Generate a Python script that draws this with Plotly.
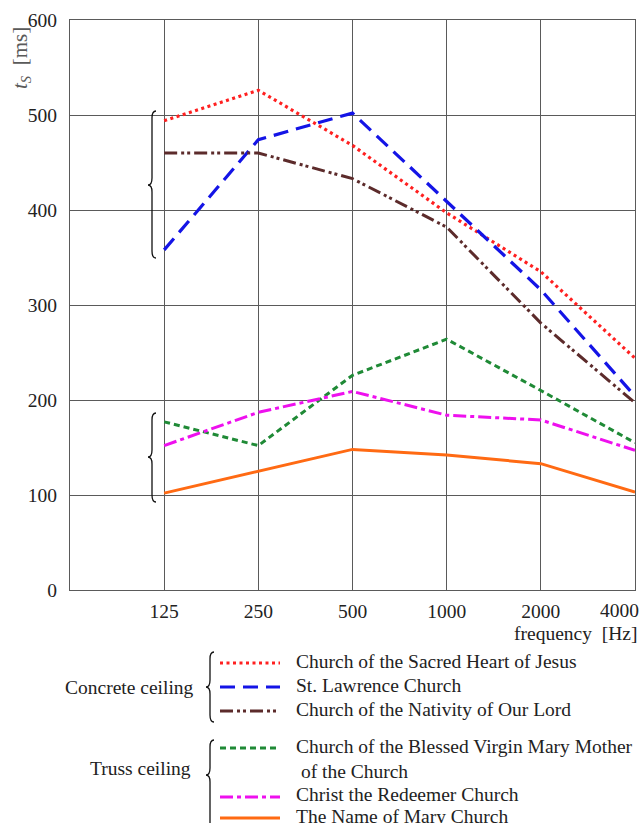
import math
import plotly.graph_objects as go

# ---------------- data ----------------
freqs = [125, 250, 500, 1000, 2000, 4000]
freq_labels = ["125", "250", "500", "1000", "2000", "4000"]
y_ticks = [0, 100, 200, 300, 400, 500, 600]

names = [
    "Church of the Sacred Heart of Jesus",
    "St. Lawrence Church",
    "Church of the Nativity of Our Lord",
    "Church of the Blessed Virgin Mary Mother<br> of the Church",
    "Christ the Redeemer Church",
    "The Name of Mary Church",
]
sacred_heart = [494, 526, 468, 397, 335, 244]
st_lawrence = [358, 474, 502, 409, 316, 204]
nativity = [460, 460, 433, 382, 281, 197]
blessed_virgin = [177, 152, 226, 264, 210, 155]
christ_redeemer = [152, 187, 209, 184, 179, 147]
name_of_mary = [102, 125, 148, 142, 133, 103]
series = [sacred_heart, st_lawrence, nativity, blessed_virgin, christ_redeemer, name_of_mary]

groups = ["Concrete ceiling", "Truss ceiling"]

# ---------------- styles ----------------
colors = ["#ff2020", "#1414e6", "#5c2b2b", "#1f8a36", "#ee10ee", "#ff6a13"]
dashes = ["3px,3.5px", "15px,8px", "13px,4px,3px,3px,3px,4px", "6px,4px", "13px,4px,4px,4px", "solid"]
widths = [3.2, 3.2, 3, 3, 3, 3]

W, H = 641, 823
ML, MR, MT, MB = 70, 6, 20, 233
PW, PH = W - ML - MR, H - MT - MB
FONT = "Liberation Serif"
FS = 19.5


def px(x):
    return (x - ML) / PW


def py(y):
    return (H - MB - y) / PH


fig = go.Figure()
for vals, nm, c, d, w in zip(series, names, colors, dashes, widths):
    fig.add_trace(go.Scatter(
        x=freqs, y=vals, mode="lines", name=nm,
        line=dict(color=c, dash=d, width=w), showlegend=False,
    ))


def brace(xr, xl, yt, yb, r=7, ym=None):
    xm = (xr + xl) / 2
    if ym is None:
        ym = (yt + yb) / 2
    pts = [
        ("M", [(xr, yt)]),
        ("Q", [(xm, yt), (xm, yt + r)]),
        ("L", [(xm, ym - r)]),
        ("Q", [(xm, ym), (xl, ym)]),
        ("Q", [(xm, ym), (xm, ym + r)]),
        ("L", [(xm, yb - r)]),
        ("Q", [(xm, yb), (xr, yb)]),
    ]
    s = ""
    for cmd, ps in pts:
        s += cmd + " ".join(f"{px(a):.5f},{py(b):.5f}" for a, b in ps) + " "
    return dict(type="path", xref="paper", yref="paper", path=s.strip(),
                line=dict(color="#111111", width=1.3))


shapes = [
    brace(156, 148, 111, 258, ym=185),
    brace(156, 148, 413, 502, ym=457),
    brace(214, 206, 652, 722, ym=687),
    brace(214, 206, 740, 830, ym=775),
]

annotations = []
# legend rows: (series index, y pixel of sample line, y pixel of text centre)
rows = [(0, 663, 661), (1, 687, 685), (2, 711, 709), (3, 748, 734), (4, 797, 794), (5, 818, 816)]
for i, yy, yt in rows:
    shapes.append(dict(type="line", xref="paper", yref="paper",
                       x0=px(220), x1=px(280), y0=py(yy), y1=py(yy),
                       line=dict(color=colors[i], dash=dashes[i], width=widths[i])))
    txt = names[i]
    yanchor = "top" if "<br>" in txt else "middle"
    annotations.append(dict(x=px(294), y=py(yt), xref="paper", yref="paper",
                            text=txt, showarrow=False, xanchor="left", yanchor=yanchor,
                            align="left", font=dict(family=FONT, size=FS, color="#222222")))

annotations.append(dict(x=px(196), y=py(687), xref="paper", yref="paper", text=groups[0],
                        showarrow=False, xanchor="right", yanchor="middle",
                        font=dict(family=FONT, size=FS, color="#222222")))
annotations.append(dict(x=px(193), y=py(768), xref="paper", yref="paper", text=groups[1],
                        showarrow=False, xanchor="right", yanchor="middle",
                        font=dict(family=FONT, size=FS, color="#222222")))
annotations.append(dict(x=px(639), y=py(633), xref="paper", yref="paper", text="frequency  [Hz]",
                        showarrow=False, xanchor="right", yanchor="middle",
                        font=dict(family=FONT, size=FS, color="#222222")))
annotations.append(dict(x=px(21), y=py(58), xref="paper", yref="paper",
                        text="<i>t<sub>S</sub></i>  [ms]", textangle=-90,
                        showarrow=False, xanchor="center", yanchor="middle",
                        font=dict(family=FONT, size=21, color="#5a5a5a")))
# last frequency label sits flush against the right edge in the reference
annotations.append(dict(x=px(641), y=py(611), xref="paper", yref="paper",
                        text=freq_labels[-1], showarrow=False, xanchor="right",
                        yanchor="middle", font=dict(family=FONT, size=FS, color="#222222")))
axis_ticktext = freq_labels[:-1] + [""]

grid = "#5a5a5a"
fig.update_layout(
    width=W, height=H,
    margin=dict(l=ML, r=MR, t=MT, b=MB, autoexpand=False),
    paper_bgcolor="white", plot_bgcolor="white",
    font=dict(family=FONT, size=FS, color="#222222"),
    shapes=shapes, annotations=annotations, showlegend=False,
    xaxis=dict(type="log", range=[math.log10(62.5), math.log10(4000)],
               tickvals=freqs, ticktext=axis_ticktext, showgrid=True,
               gridcolor=grid, gridwidth=1.2, showline=True, linecolor=grid,
               linewidth=1.2, mirror=True, ticks="", zeroline=False,
               ticklabelstandoff=3),
    yaxis=dict(range=[0, 600], tickvals=y_ticks, showgrid=True,
               gridcolor=grid, gridwidth=1.2, showline=True, linecolor=grid,
               linewidth=1.2, mirror=True, ticks="", zeroline=False,
               ticklabelstandoff=8),
)

fig.write_html("out.html", config={"displayModeBar": False},
               post_script="document.body.style.margin='0';document.body.style.overflow='hidden';")
